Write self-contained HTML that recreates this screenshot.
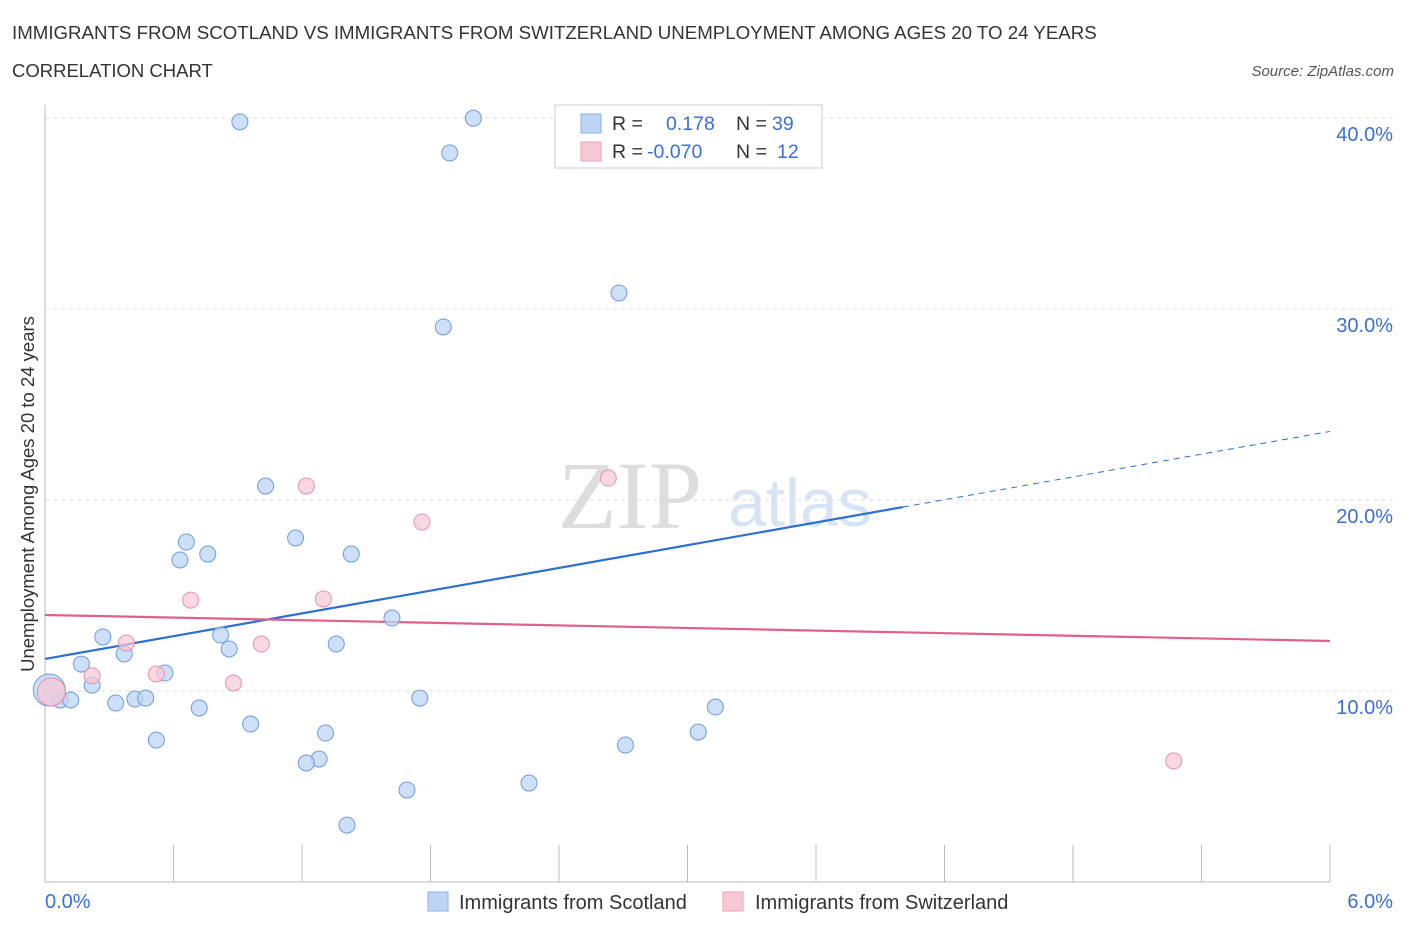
<!DOCTYPE html>
<html><head><meta charset="utf-8"><style>
body{margin:0;background:#fff;font-family:"Liberation Sans",sans-serif;}
</style></head><body>
<svg width="1406" height="930" viewBox="0 0 1406 930" xmlns="http://www.w3.org/2000/svg">
<text x="12" y="39" font-size="18.7" fill="#333">IMMIGRANTS FROM SCOTLAND VS IMMIGRANTS FROM SWITZERLAND UNEMPLOYMENT AMONG AGES 20 TO 24 YEARS</text>
<text x="12" y="77" font-size="18.5" fill="#333">CORRELATION CHART</text>
<text x="1394" y="76" font-size="15" fill="#555" font-style="italic" text-anchor="end">Source: ZipAtlas.com</text>
<text x="630" y="528" font-size="96" fill="#ddd" font-family="Liberation Serif,serif" text-anchor="middle">ZIP</text>
<text x="800" y="526" font-size="68" fill="#d6e4f5" text-anchor="middle">atlas</text>
<g id="grid"></g>
<g id="axes"></g>
<g id="lines"></g>
<g id="pts"></g>
<text x="34" y="494" font-size="18.5" fill="#333" text-anchor="middle" transform="rotate(-90 34 494)">Unemployment Among Ages 20 to 24 years</text>
<text x="45" y="908" font-size="20" fill="#3a6fd8">0.0%</text>
<text x="1393" y="908" font-size="20" fill="#3a6fd8" text-anchor="end">6.0%</text>
<g>
<rect x="555" y="105" width="267" height="63" fill="#fff" stroke="#ccc"/>
<rect x="581" y="114" width="20" height="19" fill="#bcd5f5" stroke="#8ab0e8"/>
<rect x="581" y="142" width="20" height="19" fill="#f8c8d6" stroke="#eda0b8"/>
<text x="612" y="130" font-size="19.5" fill="#333">R =</text><text x="666" y="130" font-size="19.5" fill="#3a6fd8">0.178</text>
<text x="736" y="130" font-size="19.5" fill="#333">N =</text><text x="772" y="130" font-size="19.5" fill="#3a6fd8">39</text>
<text x="612" y="158" font-size="19.5" fill="#333">R =</text><text x="647" y="158" font-size="19.5" fill="#3a6fd8">-0.070</text>
<text x="736" y="158" font-size="19.5" fill="#333">N =</text><text x="777" y="158" font-size="19.5" fill="#3a6fd8">12</text>
</g>
<g>
<rect x="428" y="892" width="20" height="19" fill="#bcd5f5" stroke="#8ab0e8"/>
<text x="459" y="909" font-size="20" fill="#333">Immigrants from Scotland</text>
<rect x="723" y="892" width="20" height="19" fill="#f8c8d6" stroke="#eda0b8"/>
<text x="755" y="909" font-size="20" fill="#333">Immigrants from Switzerland</text>
</g>
</svg>
<script>
const yTicks=[10,20,30,40];
const xTicks=[0,0.6,1.2,1.8,2.4,3.0,3.6,4.2,4.8,5.4,6.0];
const blueX=[0.91,2.00,1.89,2.68,1.86,1.03,1.17,0.66,1.43,0.76,0.63,1.62,0.27,0.82,0.86,0.37,1.36,0.17,0.56,0.22,0.07,0.12,0.33,0.42,0.47,0.72,1.75,3.13,0.96,0.52,1.31,3.05,2.71,1.28,1.22,1.69,2.26,1.41,0.02];
const blueY=[39.8,39.99,38.17,30.84,29.06,20.73,18.01,17.80,17.17,17.17,16.86,13.82,12.83,12.93,12.20,11.94,12.46,11.41,10.94,10.31,9.53,9.53,9.37,9.58,9.63,9.11,9.63,9.16,8.27,7.43,7.80,7.85,7.17,6.44,6.23,4.82,5.18,2.98,10.05];
const pinkX=[0.03,0.22,0.38,0.52,0.68,0.88,1.01,1.22,1.30,1.76,2.63,5.27];
const pinkY=[9.95,10.79,12.51,10.89,14.76,10.42,12.46,20.73,14.82,18.85,21.15,6.34];
const blueTrend=[11.68,1.985];
const pinkTrend=[13.98,-0.227];
const NS='http://www.w3.org/2000/svg';
const sx=v=>45+v*214.17, sy=v=>882-v*19.1;
function mk(tag,attrs,parent){const e=document.createElementNS(NS,tag);for(const k in attrs)e.setAttribute(k,attrs[k]);document.getElementById(parent).appendChild(e);return e;}
yTicks.forEach(t=>{
 const l=mk('line',{x1:45,x2:1395,y1:sy(t),y2:sy(t),stroke:'#ddd','stroke-dasharray':'4,4'},'grid');
 
 
 const tx=mk('text',{x:1393,y:sy(t)+23,'font-size':20,fill:'#3a6fd8','text-anchor':'end','font-family':'Liberation Sans,sans-serif'},'grid');
 tx.textContent=t.toFixed(1)+'%';
 
 
});
const ax=mk('line',{x1:45,x2:45,y1:105,y2:882,stroke:'#bbb'},'axes');


const bx=mk('line',{x1:45,x2:1330,y1:882,y2:882,stroke:'#bbb'},'axes');


xTicks.forEach(t=>{
 const l=mk('line',{x1:sx(t),x2:sx(t),y1:845,y2:882,stroke:'#bbb'},'axes');
 
 
});
const xe=4.006;
const b1=mk('line',{x1:sx(0),y1:sy(blueTrend[0]),x2:sx(xe),y2:sy(blueTrend[0]+blueTrend[1]*xe),stroke:'#2a6fd6','stroke-width':2.2},'lines');


const b2=mk('line',{x1:sx(xe),y1:sy(blueTrend[0]+blueTrend[1]*xe),x2:sx(6),y2:sy(blueTrend[0]+blueTrend[1]*6),stroke:'#2a6fd6','stroke-width':1,'stroke-dasharray':'6,5'},'lines');


const p1=mk('line',{x1:sx(0),y1:sy(pinkTrend[0]),x2:sx(6),y2:sy(pinkTrend[0]+pinkTrend[1]*6),stroke:'#e0608c','stroke-width':2.2},'lines');


blueX.forEach((x,i)=>{
 const big=i===blueX.length-1;
 const c=mk('circle',{cx:sx(x),cy:sy(blueY[i]),r:big?16:8,fill:'#bcd5f5','fill-opacity':0.75,stroke:'#6e9be0','stroke-width':1},'pts');
 
 
});
pinkX.forEach((x,i)=>{
 const big=i===0;
 const c=mk('circle',{cx:sx(x),cy:sy(pinkY[i]),r:big?14:8,fill:'#f8c8d6','fill-opacity':0.7,stroke:'#e890ac','stroke-width':1},'pts');
 
 
});
</script>
</body></html>
